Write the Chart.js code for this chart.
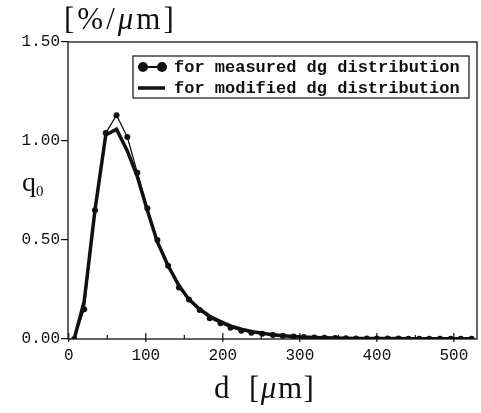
<!DOCTYPE html>
<html>
<head>
<meta charset="utf-8">
<script src="https://cdn.jsdelivr.net/npm/chart.js@4/dist/chart.umd.min.js"></script>
<style>
html, body { margin: 0; padding: 0; background: #fff; }
#wrap { position: relative; width: 481px; height: 413px; }
#chart { position: absolute; left: 0; top: 0; }
.lbl { position: absolute; font-family: "Liberation Serif", "DejaVu Serif", serif; font-size: 31px; color: #111; white-space: nowrap; line-height: 1; }
.lbl sub { font-size: 15px; vertical-align: -5px; }
</style>
</head>
<body>
<div id="wrap">
  <canvas id="chart" width="481" height="413"></canvas>
  <div class="lbl" style="left:64px;top:3px;letter-spacing:3px">[%/<i>μ</i>m]</div>
  <div class="lbl" style="left:22px;top:168px;font-size:28px">q<sub>0</sub></div>
  <div class="lbl" style="left:214px;top:372px;letter-spacing:1.5px">d<span style="margin-left:18px">[<i>μ</i>m]</span></div>
</div>
<script>
// particle size classes [µm]
const diameters = [7, 20, 34, 48, 62, 76, 89, 102, 115, 129, 143, 156, 170, 183, 197, 210, 224, 237, 251, 265, 278, 292, 305, 319, 332, 346, 360, 373, 387, 400, 414, 428, 441, 455, 468, 482, 496, 509, 523];
// q0 [%/µm]
const measuredQ0 = [0.00, 0.15, 0.65, 1.04, 1.13, 1.02, 0.84, 0.66, 0.50, 0.37, 0.26, 0.20, 0.146, 0.105, 0.080, 0.057, 0.042, 0.032, 0.027, 0.020, 0.016, 0.012, 0.010, 0.008, 0.006, 0.005, 0.004, 0.003, 0.003, 0.002, 0.002, 0.002, 0.001, 0.001, 0.001, 0.001, 0.001, 0.001, 0.001];
const modifiedQ0 = [0.00, 0.19, 0.65, 1.03, 1.06, 0.95, 0.82, 0.65, 0.49, 0.37, 0.27, 0.20, 0.150, 0.115, 0.088, 0.066, 0.050, 0.038, 0.029, 0.022, 0.017, 0.013, 0.010, 0.008, 0.006, 0.005, 0.004, 0.003, 0.003, 0.002, 0.002, 0.002, 0.001, 0.001, 0.001, 0.001, 0.001, 0.001, 0.001];

const xTicks = [0, 100, 200, 300, 400, 500];
const xMinorTicks = [50, 150, 250, 350, 450];
const yTicks = [0, 0.5, 1.0, 1.5];
const seriesLabels = ['for measured dg distribution', 'for modified dg distribution'];

const ink = '#111';
const monoFont = '"Liberation Mono", "DejaVu Sans Mono", monospace';

function toPoints(ys) {
    return diameters.map((d, i) => ({ x: d, y: ys[i] }));
}

// frame, inward x ticks and the boxed legend
const framePlugin = {
    id: 'frame',
    afterDatasetsDraw(chart) {
        const ctx = chart.ctx;
        const a = chart.chartArea;
        const xs = chart.scales.x;
        ctx.save();
        ctx.strokeStyle = ink;
        ctx.lineWidth = 1.3;
        ctx.strokeRect(a.left, a.top, a.right - a.left, a.bottom - a.top);

        ctx.lineWidth = 1.2;
        xTicks.forEach(v => {
            const px = xs.getPixelForValue(v);
            ctx.beginPath();
            ctx.moveTo(px, a.bottom + 3);
            ctx.lineTo(px, a.bottom - 6);
            ctx.stroke();
        });
        xMinorTicks.forEach(v => {
            const px = xs.getPixelForValue(v);
            ctx.beginPath();
            ctx.moveTo(px, a.bottom);
            ctx.lineTo(px, a.bottom - 4);
            ctx.stroke();
        });

        // legend box
        const lx = 133, ly = 56, lw = 336, lh = 42;
        ctx.fillStyle = '#fff';
        ctx.fillRect(lx, ly, lw, lh);
        ctx.lineWidth = 1.2;
        ctx.strokeRect(lx, ly, lw, lh);

        const ds = chart.data.datasets;
        const row1 = ly + 11, row2 = ly + 32;
        ctx.strokeStyle = ink;
        ctx.fillStyle = ink;
        ctx.lineWidth = 2;
        ctx.beginPath();
        ctx.moveTo(143, row1);
        ctx.lineTo(162, row1);
        ctx.stroke();
        [143, 162].forEach(cx => {
            ctx.beginPath();
            ctx.arc(cx, row1, 5, 0, Math.PI * 2);
            ctx.fill();
        });
        ctx.lineWidth = ds[1].borderWidth;
        ctx.beginPath();
        ctx.moveTo(138, row2);
        ctx.lineTo(165, row2);
        ctx.stroke();

        ctx.font = 'bold 17px ' + monoFont;
        ctx.textBaseline = 'middle';
        ctx.textAlign = 'left';
        ctx.fillText(ds[0].label, 174, row1 + 1);
        ctx.fillText(ds[1].label, 174, row2 + 1);
        ctx.restore();
    }
};

new Chart(document.getElementById('chart'), {
    type: 'line',
    data: {
        datasets: [{
            label: seriesLabels[0],
            data: toPoints(measuredQ0),
            borderColor: ink,
            borderWidth: 1.3,
            pointRadius: 3,
            pointBackgroundColor: ink,
            pointBorderWidth: 0,
            order: 0
        }, {
            label: seriesLabels[1],
            data: toPoints(modifiedQ0),
            borderColor: ink,
            borderWidth: 3.5,
            pointRadius: 0,
            order: 1
        }]
    },
    options: {
        responsive: false,
        animation: false,
        layout: { padding: { top: 42, right: 3, left: 0, bottom: 0 } },
        plugins: {
            legend: { display: false },
            tooltip: { enabled: false }
        },
        scales: {
            x: {
                type: 'linear',
                min: -1,
                max: 530,
                afterBuildTicks: s => { s.ticks = xTicks.map(v => ({ value: v })); },
                afterFit: s => { s.height = 74; },
                grid: { display: false, drawTicks: false },
                border: { display: false },
                ticks: {
                    color: ink,
                    padding: 7,
                    maxRotation: 0,
                    font: { family: monoFont, size: 16 },
                    callback: v => String(v)
                }
            },
            y: {
                min: 0,
                max: 1.5,
                afterBuildTicks: s => { s.ticks = yTicks.map(v => ({ value: v })); },
                afterFit: s => { s.width = 68; },
                grid: { drawOnChartArea: false, tickLength: 7, color: ink, lineWidth: 1.2 },
                border: { display: false },
                ticks: {
                    color: ink,
                    padding: 1,
                    font: { family: monoFont, size: 16 },
                    callback: v => Number(v).toFixed(2)
                }
            }
        }
    },
    plugins: [framePlugin]
});
</script>
</body>
</html>
